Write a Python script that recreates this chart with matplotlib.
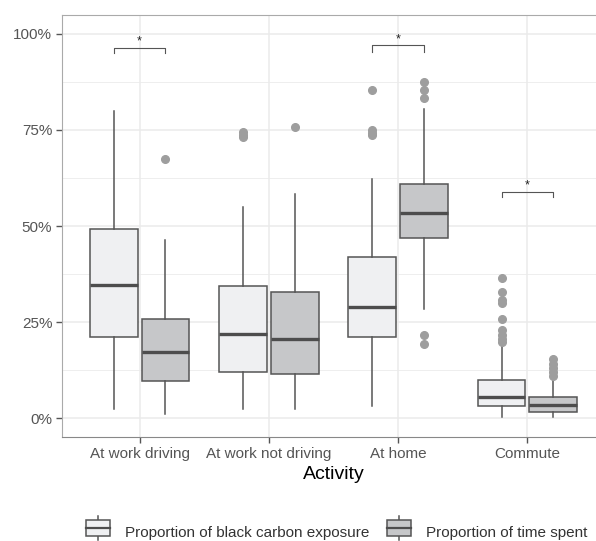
import numpy as np
import matplotlib
matplotlib.use('Agg')
from matplotlib import pyplot as plt
from matplotlib.legend_handler import HandlerBase
from matplotlib.patches import Rectangle, Patch
from matplotlib.lines import Line2D

plt.rcParams['font.family'] = ['Liberation Sans', 'DejaVu Sans']

activities = ['At work driving', 'At work not driving', 'At home', 'Commute']
series_names = ['Proportion of black carbon exposure', 'Proportion of time spent']

# box stats, in percent
# order: whislo, q1, med, q3, whishi
bc_stats = [
    [2.4, 21.0, 34.6, 49.2, 80.0],
    [2.4, 12.1, 21.9, 34.4, 55.0],
    [3.1, 21.2, 29.0, 42.0, 62.2],
    [0.3, 3.1, 5.5, 9.9, 19.4],
]
bc_fliers = [
    [],
    [74.5, 73.8, 73.2],
    [85.5, 75.0, 74.3, 73.7],
    [36.5, 32.9, 30.7, 30.0, 25.8, 22.9, 21.6, 20.5, 19.9],
]
time_stats = [
    [1.0, 9.7, 17.2, 25.8, 46.4],
    [2.4, 11.6, 20.7, 32.8, 58.3],
    [28.3, 47.0, 53.3, 61.0, 80.4],
    [0.3, 1.6, 3.4, 5.4, 10.3],
]
time_fliers = [
    [67.4],
    [75.7],
    [87.5, 85.3, 83.2, 21.7, 19.3],
    [15.4, 14.2, 13.1, 12.1, 10.9],
]
# significant pairs: activity index, bracket top, leg bottom
sig_idx = [0, 2, 3]
sig_top = [96.4, 97.0, 58.9]
sig_leg = [95.1, 95.4, 57.5]

light = '#EFF0F2'
dark = '#C6C7C9'
edge = '#555555'
grid_col = '#EBEBEB'


def to_bxp(stats, fliers):
    out = []
    for s, f in zip(stats, fliers):
        out.append(dict(whislo=s[0] / 100, q1=s[1] / 100, med=s[2] / 100,
                        q3=s[3] / 100, whishi=s[4] / 100,
                        fliers=np.array(f) / 100))
    return out


fig = plt.figure(figsize=(5.96, 5.41), dpi=100)
ax = fig.add_axes([62 / 596, 104 / 541, 543 / 596, 422 / 541])

pos = np.arange(1, len(activities) + 1)
off = 0.2
w = 0.37
for stats, fl, shift, col in [(bc_stats, bc_fliers, -off, light),
                              (time_stats, time_fliers, off, dark)]:
    ax.bxp(to_bxp(stats, fl), positions=pos + shift, widths=w,
           patch_artist=True, showcaps=False, manage_ticks=False,
           boxprops=dict(facecolor=col, edgecolor=edge, linewidth=1.1),
           medianprops=dict(color='#4D4D4D', linewidth=2.4),
           whiskerprops=dict(color=edge, linewidth=1.1),
           flierprops=dict(marker='o', markerfacecolor='#9E9E9E',
                           markeredgecolor='#9E9E9E', markersize=5.5),
           zorder=3)

for i, top, leg in zip(sig_idx, sig_top, sig_leg):
    x0 = pos[i] - off
    x1 = pos[i] + off
    ax.plot([x0, x0, x1, x1], [leg / 100, top / 100, top / 100, leg / 100],
            color='#555555', linewidth=0.8, zorder=4)
    ax.text(pos[i], top / 100 + 0.001, '*', ha='center', va='bottom',
            fontsize=9, color='#222222')

ax.set_xlim(0.4, 4.6)
ax.set_ylim(-0.049, 1.049)
ax.set_xticks(pos)
ax.set_xticklabels(activities)
ax.set_yticks([0, 0.25, 0.5, 0.75, 1.0])
ax.set_yticklabels(['0%', '25%', '50%', '75%', '100%'])
ax.set_yticks([0.125, 0.375, 0.625, 0.875], minor=True)
ax.grid(True, which='major', color=grid_col, linewidth=1.1, zorder=0)
ax.yaxis.grid(True, which='minor', color=grid_col, linewidth=0.6, zorder=0)
ax.set_axisbelow(True)
ax.tick_params(axis='both', which='major', length=4, width=1, color='#555555',
               labelcolor='#555555', labelsize=11, pad=3)
ax.tick_params(axis='y', which='minor', length=0)
ax.spines['left'].set_color('#AAAAAA')
ax.spines['top'].set_color('#AAAAAA')
ax.spines['bottom'].set_color('#888888')
ax.spines['right'].set_visible(False)
ax.set_xlabel('Activity', fontsize=14, color='black', labelpad=4)


class BoxKey(HandlerBase):
    def create_artists(self, legend, orig, xd, yd, width, height, fontsize, trans):
        cx = xd + width / 2
        bh = height * 1.2
        by = yd + height / 2 - bh / 2
        r = Rectangle((xd + 1, by), width - 2, bh, facecolor=orig.get_facecolor(),
                      edgecolor=edge, linewidth=1.1, transform=trans)
        m = Line2D([xd + 1, xd + width - 1], [yd + height / 2] * 2, color='#4D4D4D',
                   linewidth=1.6, transform=trans)
        w1 = Line2D([cx, cx], [by + bh, by + bh + 3], color=edge, linewidth=1.1, transform=trans)
        w2 = Line2D([cx, cx], [by - 3, by], color=edge, linewidth=1.1, transform=trans)
        return [w1, w2, r, m]


handles = [Patch(facecolor=light), Patch(facecolor=dark)]
leg = fig.legend(handles, series_names, loc='center', bbox_to_anchor=(336 / 596, 1 - 532 / 541),
                 ncol=2, frameon=False, fontsize=11, handler_map={Patch: BoxKey()},
                 handlelength=1.8, handleheight=1.0, handletextpad=0.9, columnspacing=1.0)
for t in leg.get_texts():
    t.set_color('#333333')

fig.savefig('out.png', dpi=100)
